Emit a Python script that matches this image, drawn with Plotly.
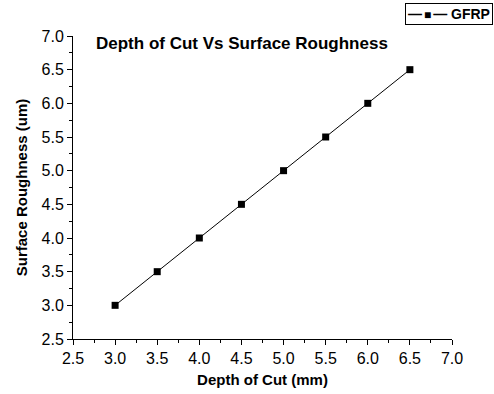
import plotly.graph_objects as go

depth_of_cut = [3.0, 3.5, 4.0, 4.5, 5.0, 5.5, 6.0, 6.5]
surface_roughness = [3.0, 3.5, 4.0, 4.5, 5.0, 5.5, 6.0, 6.5]
series_name = "GFRP"
tick_vals = [2.5, 3.0, 3.5, 4.0, 4.5, 5.0, 5.5, 6.0, 6.5, 7.0]
tick_text = ["2.5", "3.0", "3.5", "4.0", "4.5", "5.0", "5.5", "6.0", "6.5", "7.0"]

FONT = "Liberation Sans, Arial"

fig = go.Figure()
fig.add_trace(go.Scatter(
    x=depth_of_cut, y=surface_roughness, name=series_name,
    mode="lines+markers",
    line=dict(color="black", width=1),
    marker=dict(symbol="square", size=7, color="black"),
    showlegend=False,
))

axis_common = dict(
    showline=True, linecolor="black", linewidth=1,
    ticks="outside", ticklen=5, tickwidth=1, tickcolor="black",
    showgrid=False, zeroline=False, mirror=False,
    tickvals=tick_vals, ticktext=tick_text,
    tickfont=dict(family=FONT, size=16, color="black"),
    minor=dict(ticks="outside", ticklen=3, tickwidth=1, tickcolor="black", dtick=0.25, showgrid=False),
)

gap = "<span style='font-size:7px'> </span>"
legend_text = ("<b>\u2014" + gap + "<span style='font-size:12px'>\u25A0</span>" + gap +
               "\u2014 " + series_name + "</b>")

fig.update_layout(
    width=494, height=394,
    margin=dict(l=73, r=42, t=36, b=55, autoexpand=False),
    paper_bgcolor="white", plot_bgcolor="white",
    showlegend=False,
    xaxis=dict(axis_common, range=[2.5, 7.0],
               title=dict(text="<b>Depth of Cut (mm)</b>", standoff=8,
                          font=dict(family=FONT, size=15, color="black"))),
    yaxis=dict(axis_common, range=[2.5, 7.0],
               title=dict(text="<b>Surface Roughness (um)</b>", standoff=10,
                          font=dict(family=FONT, size=15, color="black"))),
    annotations=[
        dict(
            text=legend_text,
            xref="paper", yref="paper", x=(493 - 73) / 379, y=(339 - 3) / 303,
            xanchor="right", yanchor="top", showarrow=False,
            bordercolor="black", borderwidth=1, borderpad=2, bgcolor="white",
            font=dict(family=FONT, size=14, color="black"),
        ),
        dict(
            text="<b>Depth of Cut Vs Surface Roughness</b>",
            xref="paper", yref="paper", x=(94 - 73) / 379, y=(339 - 44) / 303,
            xanchor="left", yanchor="middle", showarrow=False,
            font=dict(family=FONT, size=17, color="black"),
        ),
    ],
)

fig.write_html("out.html")
